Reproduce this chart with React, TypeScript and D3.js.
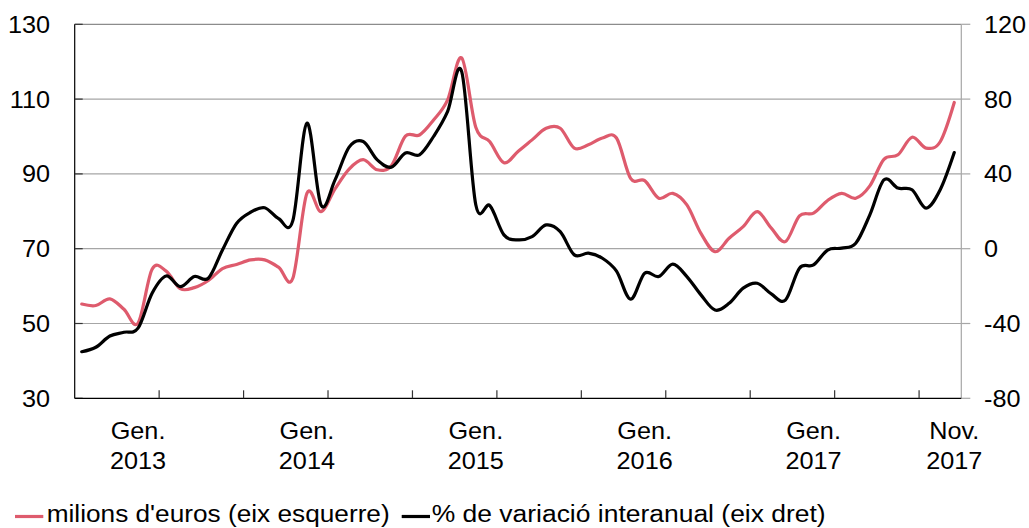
import React from "react";
import * as d3 from "d3";

// Monthly categories: Sep 2012 .. Nov 2017
const categories: string[] = d3
  .timeMonth.range(new Date(2012, 8, 1), new Date(2017, 11, 1))
  .map((d) => d3.timeFormat("%Y-%m")(d));

// milions d'euros (eix esquerre)
const milionsEuros: number[] = [
  55.2, 54.8, 56.6, 53.8, 50.1, 64.5, 64.0, 59.3, 59.6, 61.5, 64.7, 65.8,
  67.0, 67.0, 65.0, 62.1, 84.8, 79.9, 86.0, 91.3, 93.8, 91.1, 92.2, 100.1,
  100.4, 104.4, 109.8, 121.0, 102.5, 98.6, 93.0, 96.0, 99.1, 102.2, 102.2, 96.9,
  97.8, 99.6, 99.6, 88.8, 88.2, 83.5, 84.8, 81.7, 74.1, 69.2, 72.8, 75.9,
  79.9, 75.5, 71.9, 78.8, 79.5, 82.9, 84.8, 83.5, 86.8, 93.9, 95.1, 99.8,
  96.9, 98.6, 109.1,
];

// % de variació interanual (eix dret)
const variacio: number[] = [
  -55.1, -52.7, -46.7, -44.7, -42.5, -23.8, -14.6, -20.3, -14.9, -15.8, -0.7, 13.5,
  19.5, 21.9, 16.0, 15.0, 67.1, 23.4, 36.8, 54.3, 57.3, 47.5, 43.6, 51.2,
  50.2, 60.0, 73.4, 94.7, 23.5, 23.0, 7.4, 4.7, 6.5, 12.7, 9.1, -3.3,
  -2.4, -5.1, -12.0, -27.0, -13.1, -14.9, -8.3, -14.9, -24.7, -32.8, -29.2, -21.1,
  -18.5, -24.2, -27.5, -10.4, -8.7, -0.7, 0.3, 2.9, 18.1, 36.8, 32.4, 31.5,
  21.7, 31.5, 51.4,
];

const leftTicks = [30, 50, 70, 90, 110, 130];
const rightTicks = [-80, -40, 0, 40, 80, 120];

// x-axis labels: [category, line1, line2]
const xLabels: [string, string, string][] = [
  ["2013-01", "Gen.", "2013"],
  ["2014-01", "Gen.", "2014"],
  ["2015-01", "Gen.", "2015"],
  ["2016-01", "Gen.", "2016"],
  ["2017-01", "Gen.", "2017"],
  ["2017-11", "Nov.", "2017"],
];

const legendLabels = ["milions d'euros (eix esquerre)", "% de variació interanual (eix dret)"];

const W = 1029;
const H = 528;
const L = 74.7;
const R = 961.3;
const T = 24.3;
const B = 398.3;
const RED = "#de5b6d";
const FONT = "Arial, 'Liberation Sans', sans-serif";
const FS = 23.5;
const SX = 1.075;

export default function App() {
  const x = d3.scaleBand<string>().domain(categories).range([L, R]).paddingInner(0).paddingOuter(0);
  const cx = (c: string) => (x(c) as number) + x.bandwidth() / 2;
  const yL = d3.scaleLinear().domain([30, 130]).range([B, T]);
  const yR = d3.scaleLinear().domain([-80, 120]).range([B, T]);

  const curve = d3.curveCardinal.tension(0);
  const redPath = d3
    .line<number>()
    .x((_, i) => cx(categories[i]))
    .y((d) => yL(d))
    .curve(curve)(milionsEuros) as string;
  const blackPath = d3
    .line<number>()
    .x((_, i) => cx(categories[i]))
    .y((d) => yR(d))
    .curve(curve)(variacio) as string;

  const tickIdx = categories.map((_, i) => i).filter((i) => i > 0 && i % 6 === 0);

  const txt = (
    key: string,
    tx: number,
    ty: number,
    s: string,
    anchor: "start" | "middle" | "end"
  ) => (
    <text
      key={key}
      transform={`translate(${tx},${ty}) scale(${SX},1)`}
      textAnchor={anchor}
      fontFamily={FONT}
      fontSize={FS}
      fill="#000"
    >
      {s}
    </text>
  );

  return (
    <svg
      width={W}
      height={H}
      style={{ position: "absolute", left: 0, top: 0, display: "block", background: "#fff" }}
    >
      {/* gridlines */}
      {leftTicks
        .filter((t) => t !== 30)
        .map((t) => (
          <line key={"g" + t} x1={L} x2={R} y1={yL(t)} y2={yL(t)} stroke={t === 130 ? "#8c8c8c" : "#a6a6a6"} strokeWidth={1.2} />
        ))}
      {/* right axis */}
      <line x1={R} x2={R} y1={T} y2={B} stroke="#a6a6a6" strokeWidth={1.2} />
      {rightTicks.map((t) => (
        <line key={"rt" + t} x1={R} x2={R + 9} y1={yR(t)} y2={yR(t)} stroke="#a6a6a6" strokeWidth={1.2} />
      ))}
      {/* left axis */}
      <line x1={L} x2={L} y1={T} y2={B} stroke="#000" strokeWidth={1.2} />
      {leftTicks.map((t) => (
        <line key={"lt" + t} x1={L} x2={L + 8} y1={yL(t)} y2={yL(t)} stroke="#333" strokeWidth={1.2} />
      ))}
      {/* bottom axis */}
      <line x1={L} x2={R} y1={B} y2={B} stroke="#000" strokeWidth={1.2} />
      {tickIdx.map((i) => (
        <line key={"bt" + i} x1={x(categories[i]) as number} x2={x(categories[i]) as number} y1={B} y2={B - 8} stroke="#333" strokeWidth={1.2} />
      ))}

      {/* series */}
      <path d={redPath} fill="none" stroke={RED} strokeWidth={3.2} strokeLinejoin="round" strokeLinecap="round" />
      <path d={blackPath} fill="none" stroke="#000" strokeWidth={3.2} strokeLinejoin="round" strokeLinecap="round" />

      {/* left tick labels */}
      {leftTicks.map((t) => txt("ll" + t, 50, yL(t) + 8.4, String(t), "end"))}
      {/* right tick labels */}
      {rightTicks.map((t) => txt("rl" + t, 984, yR(t) + 8.4, String(t), "start"))}
      {/* x labels */}
      {xLabels.map(([c, a, b]) => (
        <g key={"xl" + c}>
          {txt("a" + c, cx(c), 438.5, a, "middle")}
          {txt("b" + c, cx(c), 469, b, "middle")}
        </g>
      ))}

      {/* legend */}
      <line x1={15} x2={43.3} y1={516.5} y2={516.5} stroke={RED} strokeWidth={3.2} />
      <text x={46.7} y={522} fontFamily={FONT} fontSize={FS} textLength={343} lengthAdjust="spacingAndGlyphs">
        {legendLabels[0]}
      </text>
      <line x1={401.7} x2={430} y1={516.5} y2={516.5} stroke="#000" strokeWidth={3.2} />
      <text x={431.7} y={522} fontFamily={FONT} fontSize={FS} textLength={394} lengthAdjust="spacingAndGlyphs">
        {legendLabels[1]}
      </text>
    </svg>
  );
}
